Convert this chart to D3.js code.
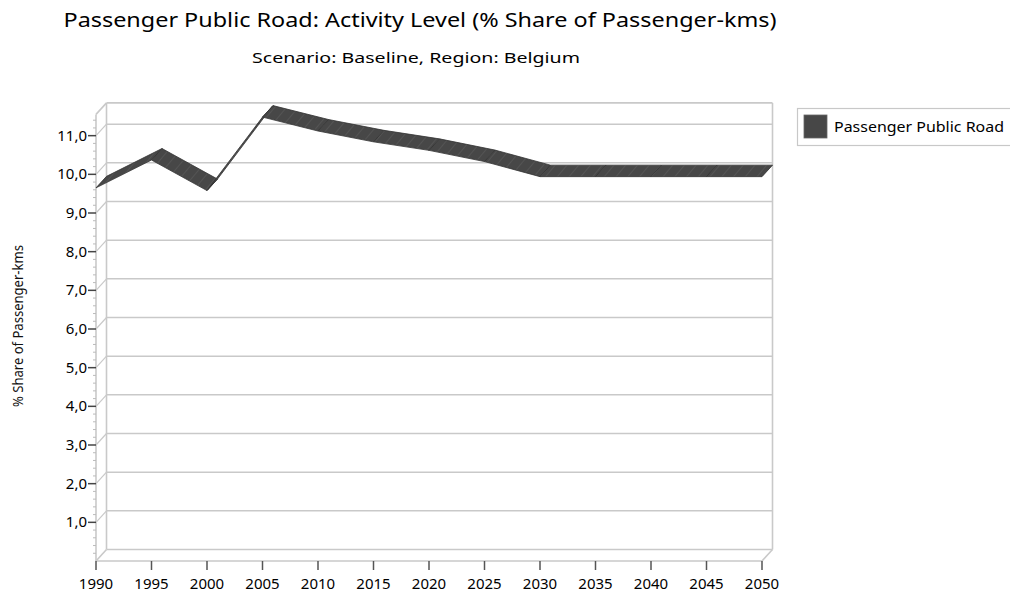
<!DOCTYPE html>
<html>
<head>
<meta charset="utf-8">
<script src="https://cdn.jsdelivr.net/npm/d3@7"></script>
<style>
    body { margin: 0; background: #fff; }
    svg { font-family: 'Noto Sans', 'Open Sans', sans-serif; }
</style>
</head>
<body>
<div class="Canvas"></div>
<script>
let years = [1990, 1995, 2000, 2005, 2010, 2015, 2020, 2025, 2030, 2035, 2040, 2045, 2050];
let shareValues = [9.65, 10.37, 9.58, 11.48, 11.12, 10.84, 10.62, 10.33, 9.94, 9.94, 9.94, 9.94, 9.94];
let yTicks = [1, 2, 3, 4, 5, 6, 7, 8, 9, 10, 11];
let seriesName = 'Passenger Public Road';

let width = 1010;
let height = 595;
let depthX = 10.5;
let depthY = -11.5;
let gridColor = '#c9c9c9';
let ribbonColor = '#474747';

let svg = d3.select('.Canvas').append('svg').attr('width', width).attr('height', height);

let x = d3.scaleLinear().domain([1990, 2050]).range([96, 762]);
let y = d3.scaleLinear().domain([0, 11.55]).range([561, 114.4]);
let fmt = (d) => d.toFixed(1).replace('.', ',');

// hatch pattern used inside the ribbon
let pat = svg.append('defs').append('pattern')
    .attr('id', 'hatch')
    .attr('patternUnits', 'userSpaceOnUse')
    .attr('width', 9).attr('height', 9)
    .attr('patternTransform', 'rotate(40)');
pat.append('rect').attr('width', 9).attr('height', 9).attr('fill', ribbonColor);
pat.append('line').attr('x1', 0).attr('y1', 0).attr('x2', 0).attr('y2', 9)
    .attr('stroke', '#5c5c5c').attr('stroke-width', 1.2);

// titles
svg.append('text').attr('x', 420).attr('y', 27).attr('text-anchor', 'middle')
    .attr('font-size', '20px').attr('fill', '#000')
    .attr('textLength', 713).attr('lengthAdjust', 'spacingAndGlyphs')
    .text('Passenger Public Road: Activity Level (% Share of Passenger-kms)');
svg.append('text').attr('x', 416).attr('y', 63).attr('text-anchor', 'middle')
    .attr('font-size', '15px').attr('fill', '#000')
    .attr('textLength', 328).attr('lengthAdjust', 'spacingAndGlyphs')
    .text('Scenario: Baseline, Region: Belgium');

let walls = svg.append('g');
let [x0, x1] = x.range();
let yb = y(0);
let yt = y.range()[1];

// back wall gridlines and left wall diagonals
yTicks.forEach((t) => {
    walls.append('line')
        .attr('x1', x0 + depthX).attr('x2', x1 + depthX)
        .attr('y1', y(t) + depthY).attr('y2', y(t) + depthY)
        .attr('stroke', gridColor).attr('stroke-width', 1.5);
    walls.append('line')
        .attr('x1', x0).attr('y1', y(t))
        .attr('x2', x0 + depthX).attr('y2', y(t) + depthY)
        .attr('stroke', gridColor).attr('stroke-width', 1.2);
});

// box edges
let edges = [
    [x0 + depthX, yt + depthY, x1 + depthX, yt + depthY],
    [x0 + depthX, yt + depthY, x0 + depthX, yb + depthY],
    [x1 + depthX, yt + depthY, x1 + depthX, yb + depthY],
    [x0 + depthX, yb + depthY, x1 + depthX, yb + depthY],
    [x0, yb, x1, yb],
    [x0, yb, x0 + depthX, yb + depthY],
    [x1, yb, x1 + depthX, yb + depthY],
    [x0, yt, x0 + depthX, yt + depthY],
    [x0, yt, x0, yb],
];
edges.forEach((e) => {
    walls.append('line')
        .attr('x1', e[0]).attr('y1', e[1]).attr('x2', e[2]).attr('y2', e[3])
        .attr('stroke', gridColor).attr('stroke-width', 1.6);
});

// y axis ticks and labels
let yAxis = svg.append('g');
let minor = d3.range(0.2, 11.55, 0.2).filter((v) => Math.abs(v - Math.round(v)) > 0.01);
minor.forEach((v) => {
    yAxis.append('line').attr('x1', x0 - 3).attr('x2', x0).attr('y1', y(v)).attr('y2', y(v))
        .attr('stroke', '#bbb').attr('stroke-width', 1);
});
yTicks.forEach((t) => {
    yAxis.append('line').attr('x1', x0 - 8).attr('x2', x0).attr('y1', y(t)).attr('y2', y(t))
        .attr('stroke', '#444').attr('stroke-width', 1.5);
    yAxis.append('text').attr('x', x0 - 9).attr('y', y(t) + 5)
        .attr('text-anchor', 'end').attr('font-size', '15px').attr('fill', '#000')
        .text(fmt(t));
});
svg.append('text')
    .attr('transform', `translate(23, 326) rotate(-90)`)
    .attr('text-anchor', 'middle').attr('font-size', '13.5px').attr('fill', '#111')
    .attr('textLength', 162).attr('lengthAdjust', 'spacingAndGlyphs')
    .text('% Share of Passenger-kms');

// x axis ticks and labels
let xAxis = svg.append('g');
years.forEach((yr) => {
    xAxis.append('line').attr('x1', x(yr)).attr('x2', x(yr)).attr('y1', yb).attr('y2', yb + 9)
        .attr('stroke', '#555').attr('stroke-width', 1.5);
    xAxis.append('text').attr('x', x(yr)).attr('y', yb + 28)
        .attr('text-anchor', 'middle').attr('font-size', '15px').attr('fill', '#000')
        .text(yr);
});

// 3D ribbon
let pts = years.map((yr, i) => ({ fx: x(yr), fy: y(shareValues[i]) }));
let segs = d3.pairs(pts);
svg.append('g').selectAll('path')
    .data(segs)
    .enter()
    .append('path')
    .attr('d', (d) => {
        let a = d[0], b = d[1];
        return `M${a.fx},${a.fy}L${b.fx},${b.fy}L${b.fx + depthX},${b.fy + depthY}L${a.fx + depthX},${a.fy + depthY}Z`;
    })
    .attr('fill', 'url(#hatch)')
    .attr('stroke', '#333')
    .attr('stroke-width', 0.8)
    .attr('stroke-linejoin', 'round');

// legend
let lg = svg.append('g');
lg.append('rect').attr('x', 797.5).attr('y', 108.5).attr('width', 220).attr('height', 37)
    .attr('fill', '#fff').attr('stroke', '#c8c8c8').attr('stroke-width', 1.2);
lg.append('rect').attr('x', 804).attr('y', 115).attr('width', 23).attr('height', 23)
    .attr('fill', ribbonColor).attr('stroke', '#666').attr('stroke-width', 0.8);
lg.append('text').attr('x', 834).attr('y', 132).attr('font-size', '15px').attr('fill', '#000')
    .attr('textLength', 170).attr('lengthAdjust', 'spacingAndGlyphs')
    .text(seriesName);
</script>
</body>
</html>
